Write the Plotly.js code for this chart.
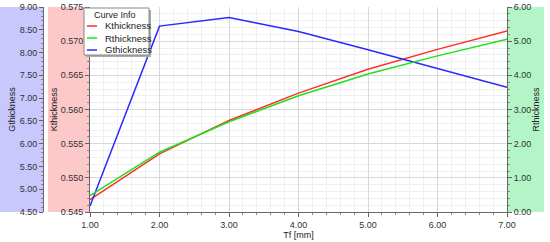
<!DOCTYPE html>
<html>
<head>
<meta charset="utf-8">
<script src="https://cdn.plot.ly/plotly-3.0.1.min.js"></script>
<style>
  html, body { margin: 0; padding: 0; background: #fff; }
  #chart { width: 550px; height: 242px; }
</style>
</head>
<body>
<div id="chart"></div>
<script>
// values
const tf = [1, 2, 3, 4, 5, 6, 7];
const kThickness = [0.5468, 0.5535, 0.5584, 0.5624, 0.5659, 0.5688, 0.5715];
const rThickness = [0.48, 1.75, 2.64, 3.40, 4.04, 4.57, 5.06];
const gThickness = [4.63, 8.58, 8.77, 8.46, 8.06, 7.65, 7.24];

const seriesNames = ["Kthickness", "Rthickness", "Gthickness"];
const seriesColors = ["rgb(255,45,45)", "rgb(30,225,30)", "rgb(40,40,255)"];
const legendTitle = "Curve Info";

const W = 550, H = 242;
const plotTop = 7, plotBottom = 212;
const px = x => x / W;
const py = y => (plotBottom - y) / (plotBottom - plotTop);

const fontFam = "Liberation Sans, Arial, sans-serif";
const tickFont = { family: fontFam, size: 9, color: "#333" };
const titleFont = { family: fontFam, size: 9, color: "#222" };

const traces = [
  { x: tf, y: kThickness, name: seriesNames[0], yaxis: "y",
    type: "scatter", mode: "lines", line: { color: seriesColors[0], width: 1.5 } },
  { x: tf, y: rThickness, name: seriesNames[1], yaxis: "y3",
    type: "scatter", mode: "lines", line: { color: seriesColors[1], width: 1.5 } },
  { x: tf, y: gThickness, name: seriesNames[2], yaxis: "y2",
    type: "scatter", mode: "lines", line: { color: seriesColors[2], width: 1.5 } }
];

// coloured bands behind the axes
const shapes = [
  { type: "rect", xref: "paper", yref: "paper", x0: 0, x1: px(43), y0: 0, y1: 1,
    fillcolor: "#c8c8fc", line: { width: 0 }, layer: "below" },
  { type: "rect", xref: "paper", yref: "paper", x0: px(48), x1: px(90), y0: 0, y1: 1,
    fillcolor: "#fcc8c8", line: { width: 0 }, layer: "below" },
  { type: "rect", xref: "paper", yref: "paper", x0: px(507), x1: px(544), y0: 0, y1: 1,
    fillcolor: "#b4f5c8", line: { width: 0 }, layer: "below" }
];

// legend box (drawn by hand so the sample lines stay short)
const annotations = [];
const lx0 = 84, lx1 = 149, ly0 = 8, ly1 = 55;
shapes.push({ type: "rect", xref: "paper", yref: "paper",
  x0: px(lx0 + 2), x1: px(lx1 + 2), y0: py(ly1 + 2), y1: py(ly0 + 2),
  fillcolor: "#aaa", line: { width: 0 } });
shapes.push({ type: "rect", xref: "paper", yref: "paper",
  x0: px(lx0), x1: px(lx1), y0: py(ly1), y1: py(ly0),
  fillcolor: "#fff", line: { color: "#888", width: 1 } });
annotations.push({ xref: "paper", yref: "paper", x: px((lx0 + lx1) / 2 - 2), y: py(15),
  text: legendTitle, showarrow: false, xanchor: "center", yanchor: "middle",
  font: { family: fontFam, size: 9, color: "#222" } });
seriesNames.forEach((n, i) => {
  const yy = 26 + i * 12;
  shapes.push({ type: "line", xref: "paper", yref: "paper",
    x0: px(87), x1: px(97), y0: py(yy), y1: py(yy),
    line: { color: seriesColors[i], width: 1.5 } });
  annotations.push({ xref: "paper", yref: "paper", x: px(103), y: py(yy),
    text: n, showarrow: false, xanchor: "left", yanchor: "middle",
    font: { family: fontFam, size: 9.5, color: "#222" } });
});

const layout = {
  width: W, height: H,
  margin: { l: 0, r: 0, t: plotTop, b: H - plotBottom },
  paper_bgcolor: "#fff",
  plot_bgcolor: "#fff",
  showlegend: false,
  font: { family: fontFam },
  xaxis: {
    domain: [px(90), px(507)],
    range: [1, 7], dtick: 1, tick0: 1, tickformat: ".2f",
    tickfont: tickFont,
    title: { text: "Tf [mm]", font: titleFont, standoff: 0 },
    showline: true, linecolor: "#666", linewidth: 1,
    ticks: "outside", ticklen: 4, tickcolor: "#666",
    showgrid: true, gridcolor: "#d8d8d8", zeroline: false,
    minor: { dtick: 0.2, ticks: "outside", ticklen: 2, tickcolor: "#888",
             showgrid: true, gridcolor: "#efefef" },
    automargin: false
  },
  yaxis: {
    range: [0.545, 0.575], dtick: 0.005, tick0: 0.545, tickformat: ".3f",
    tickfont: tickFont, anchor: "x",
    title: { text: "Kthickness", font: titleFont, standoff: 1 },
    showline: true, linecolor: "#666", linewidth: 1,
    ticks: "outside", ticklen: 4, tickcolor: "#666",
    showgrid: true, gridcolor: "#d8d8d8", zeroline: false,
    minor: { dtick: 0.001, ticks: "outside", ticklen: 2, tickcolor: "#888",
             showgrid: true, gridcolor: "#efefef" },
    automargin: false
  },
  yaxis2: {
    range: [4.5, 9], dtick: 0.5, tick0: 4.5, tickformat: ".2f",
    tickfont: tickFont, anchor: "free", position: px(43), overlaying: "y", side: "left",
    title: { text: "Gthickness", font: titleFont, standoff: 1 },
    showline: true, linecolor: "#666", linewidth: 1,
    ticks: "outside", ticklen: 4, tickcolor: "#666",
    showgrid: false, zeroline: false,
    minor: { dtick: 0.1, ticks: "outside", ticklen: 2, tickcolor: "#888", showgrid: false },
    automargin: false
  },
  yaxis3: {
    range: [0, 6], dtick: 1, tick0: 0, tickformat: ".2f",
    tickfont: tickFont, anchor: "x", overlaying: "y", side: "right",
    title: { text: "Rthickness", font: titleFont, standoff: 2 },
    showline: true, linecolor: "#666", linewidth: 1,
    ticks: "outside", ticklen: 4, tickcolor: "#666",
    showgrid: false, zeroline: false,
    minor: { dtick: 0.2, ticks: "outside", ticklen: 2, tickcolor: "#888", showgrid: false },
    automargin: false
  },
  shapes: shapes,
  annotations: annotations
};

Plotly.newPlot("chart", traces, layout, { displayModeBar: false, staticPlot: true });
</script>
</body>
</html>
